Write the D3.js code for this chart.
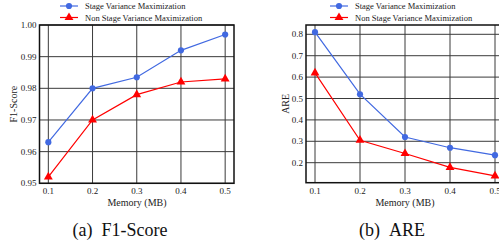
<!DOCTYPE html>
<html>
<head>
<meta charset="utf-8">
<script src="https://cdn.jsdelivr.net/npm/d3@7"></script>
<style>
  body { margin: 0; background: #fff; }
</style>
</head>
<body>
<svg id="chart" width="499" height="250"></svg>
<script>
const memory = [0.1, 0.2, 0.3, 0.4, 0.5];
const xTicks = [0.1, 0.2, 0.3, 0.4, 0.5];
const seriesNames = ["Stage Variance Maximization", "Non Stage Variance Maximization"];
const seriesColors = ["#4169e1", "#ff0000"];

const f1Stage = [0.963, 0.980, 0.9835, 0.992, 0.997];
const f1NonStage = [0.952, 0.970, 0.978, 0.982, 0.983];
const f1Ticks = [0.95, 0.96, 0.97, 0.98, 0.99, 1.00];

const areStage = [0.81, 0.52, 0.32, 0.27, 0.235];
const areNonStage = [0.62, 0.305, 0.243, 0.178, 0.138];
const areTicks = [0.2, 0.3, 0.4, 0.5, 0.6, 0.7, 0.8];

const SERIF = "'Liberation Serif', 'DejaVu Serif', serif";
const svg = d3.select("#chart");

function drawPanel(opts) {
  const { left, right, top, bottom, yDomain, yTicks, yFmt, series, yLabel, caption, legendX, captionX, xLabelX, yLabelX } = opts;

  const x = d3.scaleLinear().domain([0.08, 0.52]).range([left, right]);
  const y = d3.scaleLinear().domain(yDomain).range([bottom, top]);
  const g = svg.append("g").attr("font-family", SERIF).attr("fill", "#222");

  // grid
  g.selectAll(".gx").data(xTicks).join("line")
    .attr("x1", d => x(d)).attr("x2", d => x(d))
    .attr("y1", top).attr("y2", bottom)
    .attr("stroke", "#3a3a3a").attr("stroke-width", 1);
  g.selectAll(".gy").data(yTicks).join("line")
    .attr("x1", left).attr("x2", right)
    .attr("y1", d => y(d)).attr("y2", d => y(d))
    .attr("stroke", "#3a3a3a").attr("stroke-width", 1);

  // frame
  g.append("rect")
    .attr("x", left).attr("y", top)
    .attr("width", right - left).attr("height", bottom - top)
    .attr("fill", "none").attr("stroke", "#111").attr("stroke-width", 1.5);

  // tick labels
  g.selectAll(".xt").data(xTicks).join("text")
    .attr("x", d => x(d)).attr("y", bottom + 11)
    .attr("text-anchor", "middle").attr("font-size", 9)
    .text(d => d3.format(".1f")(d));
  g.selectAll(".yt").data(yTicks).join("text")
    .attr("x", left - 3).attr("y", d => y(d) + 3)
    .attr("text-anchor", "end").attr("font-size", 9)
    .text(d => yFmt(d));

  // lines + markers
  series.forEach((vals, i) => {
    const pts = memory.map((m, j) => [x(m), y(vals[j])]);
    g.append("path")
      .attr("d", d3.line()(pts))
      .attr("fill", "none").attr("stroke", seriesColors[i]).attr("stroke-width", 1.2);
    const sym = i === 0 ? d3.symbolCircle : d3.symbolTriangle;
    g.selectAll(".m" + i).data(pts).join("path")
      .attr("transform", d => `translate(${d[0]},${d[1]})`)
      .attr("d", d3.symbol().type(sym).size(i === 0 ? 30 : 34))
      .attr("fill", seriesColors[i]);
  });

  // axis labels
  g.append("text")
    .attr("x", xLabelX).attr("y", bottom + 23)
    .attr("text-anchor", "middle").attr("font-size", 10)
    .text("Memory (MB)");
  g.append("text")
    .attr("transform", `translate(${yLabelX},${(top + bottom) / 2}) rotate(-90)`)
    .attr("text-anchor", "middle").attr("font-size", 10)
    .text(yLabel);

  // caption
  g.append("text")
    .attr("x", captionX).attr("y", 236)
    .attr("text-anchor", "middle").attr("font-size", 18)
    .attr("fill", "#111")
    .style("white-space", "pre")
    .text(caption);

  // legend
  seriesNames.forEach((name, i) => {
    const ly = 6 + i * 11.5;
    g.append("line")
      .attr("x1", legendX).attr("x2", legendX + 18)
      .attr("y1", ly).attr("y2", ly)
      .attr("stroke", seriesColors[i]).attr("stroke-width", 1.2);
    g.append("path")
      .attr("transform", `translate(${legendX + 9},${ly})`)
      .attr("d", d3.symbol().type(i === 0 ? d3.symbolCircle : d3.symbolTriangle).size(i === 0 ? 30 : 34))
      .attr("fill", seriesColors[i]);
    g.append("text")
      .attr("x", legendX + 25).attr("y", ly + 3)
      .attr("font-size", 8.5)
      .text(name);
  });
}

drawPanel({
  left: 39.5, right: 234, top: 25, bottom: 183.3,
  yDomain: [0.95, 1.0], yTicks: f1Ticks, yFmt: d3.format(".2f"),
  series: [f1Stage, f1NonStage], yLabel: "F1-Score",
  caption: "(a)\u00a0\u00a0F1-Score", captionX: 120, xLabelX: 137, legendX: 60, yLabelX: 17
});

drawPanel({
  left: 306, right: 504, top: 25, bottom: 182.7,
  yDomain: [0.1065, 0.8435], yTicks: areTicks, yFmt: d3.format(".1f"),
  series: [areStage, areNonStage], yLabel: "ARE",
  caption: "(b)\u00a0\u00a0ARE", captionX: 392, xLabelX: 405, legendX: 330, yLabelX: 289
});
</script>
</body>
</html>
